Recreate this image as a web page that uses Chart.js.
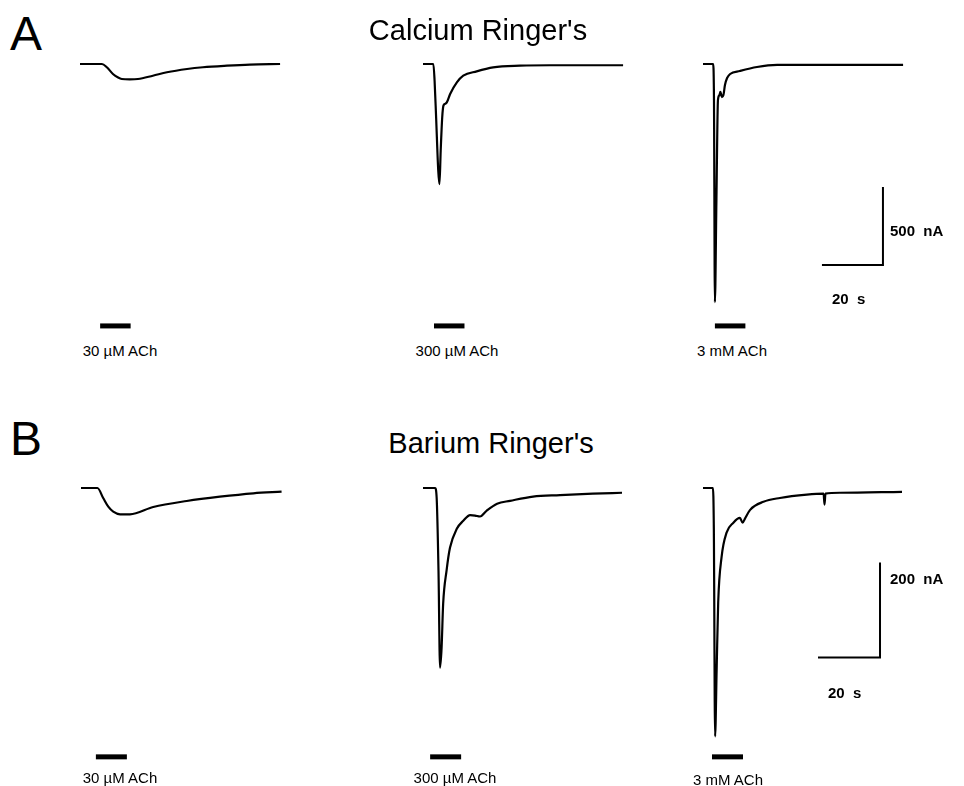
<!DOCTYPE html>
<html>
<head>
<meta charset="utf-8">
<script src="https://cdn.jsdelivr.net/npm/chart.js@4/dist/chart.umd.min.js"></script>
<style>
  html, body { margin: 0; padding: 0; background: #fff; }
  #fig { position: relative; width: 964px; height: 786px; background: #fff; overflow: hidden;
         font-family: "Liberation Sans", Arial, sans-serif; color: #000; }
  canvas { position: absolute; }
  .t { position: absolute; white-space: nowrap; line-height: 1; transform: translate(-50%, -50%); }
  .l { position: absolute; white-space: nowrap; line-height: 1; transform: translate(0, -50%); }
</style>
</head>
<body>
<div id="fig"></div>
<script>
// ---------------- DATA (time in s, current in nA) ----------------
// Panel A: Calcium Ringer's
const timeA1 = [0, 7.2, 8.8, 10.8, 12.5, 13.7, 16.3, 19.0, 23.9, 28.5, 35.1, 40.3, 48.2, 55.7, 65.6];
const currentA1 = [0, 0, -21, -64, -87, -96, -98, -96, -75, -53, -32, -21, -11, -4, 0];

const timeA2 = [0, 3.4, 3.8, 4.3, 5.0, 5.4, 5.8, 6.3, 6.7, 7.2, 7.8, 8.9, 11.1, 13.2, 17.6, 23.0, 31.8, 41.6, 65.6];
const currentA2 = [0, 0, -107, -342, -684, -770, -556, -342, -267, -256, -246, -192, -118, -75, -47, -22, -11, -8, -8];

const timeA3 = [0, 3.3, 3.6, 3.9, 4.4, 4.9, 5.4, 5.7, 6.2, 6.7, 7.2, 7.9, 8.9, 12.1, 17.7, 24.3, 65.6];
const currentA3 = [0, 0, -231, -1526, -872, -231, -199, -179, -212, -199, -135, -90, -64, -45, -19, -6, -6];

// Panel B: Barium Ringer's
const timeB1 = [0, 5.3, 7.2, 8.8, 10.4, 12.6, 15.8, 23.3, 34.1, 44.8, 55.6, 64.7];
const currentB1 = [0, 0, -21.7, -39.4, -49.9, -55.4, -55.4, -40, -27.4, -18.3, -11.2, -7.8];

const timeB2 = [0, 3.9, 4.4, 5.0, 5.5, 6.0, 6.5, 7.6, 8.7, 10.9, 13.0, 15.2, 16.8, 18.4, 20.5, 23.9, 28.1, 35.5, 44.2, 54.8, 64.2];
const currentB2 = [0, 0, -20, -174, -378, -336, -244, -174, -126, -86, -69, -57, -58, -60, -48, -33, -27, -18, -15, -12, -10];

const timeB3 = [0, 3.2, 3.5, 3.9, 4.4, 4.9, 6.0, 7.6, 9.8, 11.9, 12.8, 13.5, 15.2, 19.5, 24.8, 33.5, 38.9, 39.2, 39.5, 44.2, 64.2];
const currentB3 = [0, 0, -88, -523, -383, -241, -145, -94, -73, -63, -73, -65, -46, -29, -21, -14, -12, -35, -12, -10, -8];

// ACh application bars (start time, s; duration 10 s)
const stimLabels = ["30 µM ACh", "300 µM ACh", "3 mM ACh"];
const stimStartA = [6.6, 3.6, 3.9];
const stimStartB = [4.8, 2.3, 2.9];
const stimDuration = 10;
const stimLevelA = -1679;
const stimLevelB = -566;

// Scale bars: time (s) and current (nA) of the three corner points
const scaleBarTimeA = [39, 59, 59];
const scaleBarCurrentA = [-1288, -1288, -788];
const scaleBarTimeB = [37.1, 57.1, 57.1];
const scaleBarCurrentB = [-357, -357, -157];
const scaleLabelsA = ["500  nA", "20  s"];
const scaleLabelsB = ["200  nA", "20  s"];

const panelLetters = ["A", "B"];
const panelTitles = ["Calcium Ringer's", "Barium Ringer's"];

// ---------------- LAYOUT ----------------
const fig = document.getElementById('fig');
const pts = (t, y) => t.map((v, i) => ({x: v, y: y[i]}));

function makeChart(opt) {
  const c = document.createElement('canvas');
  c.width = opt.w; c.height = opt.h;
  c.style.left = opt.left + 'px'; c.style.top = opt.top + 'px';
  c.style.width = opt.w + 'px'; c.style.height = opt.h + 'px';
  fig.appendChild(c);
  const nAperPx = 1 / opt.pxPerNA;
  const yMax = (opt.base - opt.top) * nAperPx;
  const yMin = -(opt.top + opt.h - opt.base) * nAperPx;
  const datasets = [
    { data: pts(opt.t, opt.i), borderColor: '#000', borderWidth: 2.2, pointRadius: 0,
      cubicInterpolationMode: 'monotone', clip: false, borderJoinStyle: 'round' },
    { data: [{x: opt.stim, y: opt.stimLevel}, {x: opt.stim + stimDuration, y: opt.stimLevel}],
      borderColor: '#000', borderWidth: 5, pointRadius: 0, clip: false }
  ];
  if (opt.sbT) datasets.push({ data: pts(opt.sbT, opt.sbI), borderColor: '#000', borderWidth: 2,
      pointRadius: 0, clip: false, borderJoinStyle: 'miter' });
  new Chart(c, {
    type: 'line',
    data: { datasets },
    options: {
      responsive: false, animation: false, devicePixelRatio: 1,
      layout: { padding: 0 },
      scales: {
        x: { type: 'linear', display: false, min: 0, max: opt.w / opt.pxPerS },
        y: { type: 'linear', display: false, min: yMin, max: yMax }
      },
      plugins: { legend: { display: false }, tooltip: { enabled: false } }
    }
  });
}

function addText(txt, x, y, size, cls, extra) {
  const d = document.createElement('div');
  d.className = cls || 't';
  d.textContent = txt;
  d.style.left = x + 'px'; d.style.top = y + 'px';
  d.style.fontSize = size + 'px';
  if (extra) Object.assign(d.style, extra);
  fig.appendChild(d);
}

// Panel A
const A = { pxPerS: 3.05, pxPerNA: 0.156, top: 30, h: 310, base: 64 };
makeChart({ ...A, left: 80, w: 215, t: timeA1, i: currentA1, stim: stimStartA[0], stimLevel: stimLevelA });
makeChart({ ...A, left: 423, w: 215, t: timeA2, i: currentA2, stim: stimStartA[1], stimLevel: stimLevelA });
makeChart({ ...A, left: 703, w: 215, t: timeA3, i: currentA3, stim: stimStartA[2], stimLevel: stimLevelA, sbT: scaleBarTimeA, sbI: scaleBarCurrentA });

// Panel B
const B = { pxPerS: 3.1, pxPerNA: 0.475, top: 470, h: 300, base: 488 };
makeChart({ ...B, left: 81, w: 215, t: timeB1, i: currentB1, stim: stimStartB[0], stimLevel: stimLevelB });
makeChart({ ...B, left: 423, w: 215, t: timeB2, i: currentB2, stim: stimStartB[1], stimLevel: stimLevelB });
makeChart({ ...B, left: 703, w: 215, t: timeB3, i: currentB3, stim: stimStartB[2], stimLevel: stimLevelB, sbT: scaleBarTimeB, sbI: scaleBarCurrentB });

// Text
addText(panelLetters[0], 10, 34, 48, 'l');
addText(panelLetters[1], 10, 439, 48, 'l');
addText(panelTitles[0], 478, 30, 29);
addText(panelTitles[1], 491, 443, 29);

addText(stimLabels[0], 120, 350, 15);
addText(stimLabels[1], 457, 350, 15);
addText(stimLabels[2], 732, 350, 15);
addText(stimLabels[0], 120, 777, 15);
addText(stimLabels[1], 455, 777, 15);
addText(stimLabels[2], 728, 779, 15);

const sc = { fontWeight: 'bold', whiteSpace: 'pre' };
addText(scaleLabelsA[0], 890, 230, 15, 'l', sc);
addText(scaleLabelsA[1], 832, 298, 15, 'l', sc);
addText(scaleLabelsB[0], 890, 578, 15, 'l', sc);
addText(scaleLabelsB[1], 828, 692, 15, 'l', sc);
</script>
</body>
</html>
